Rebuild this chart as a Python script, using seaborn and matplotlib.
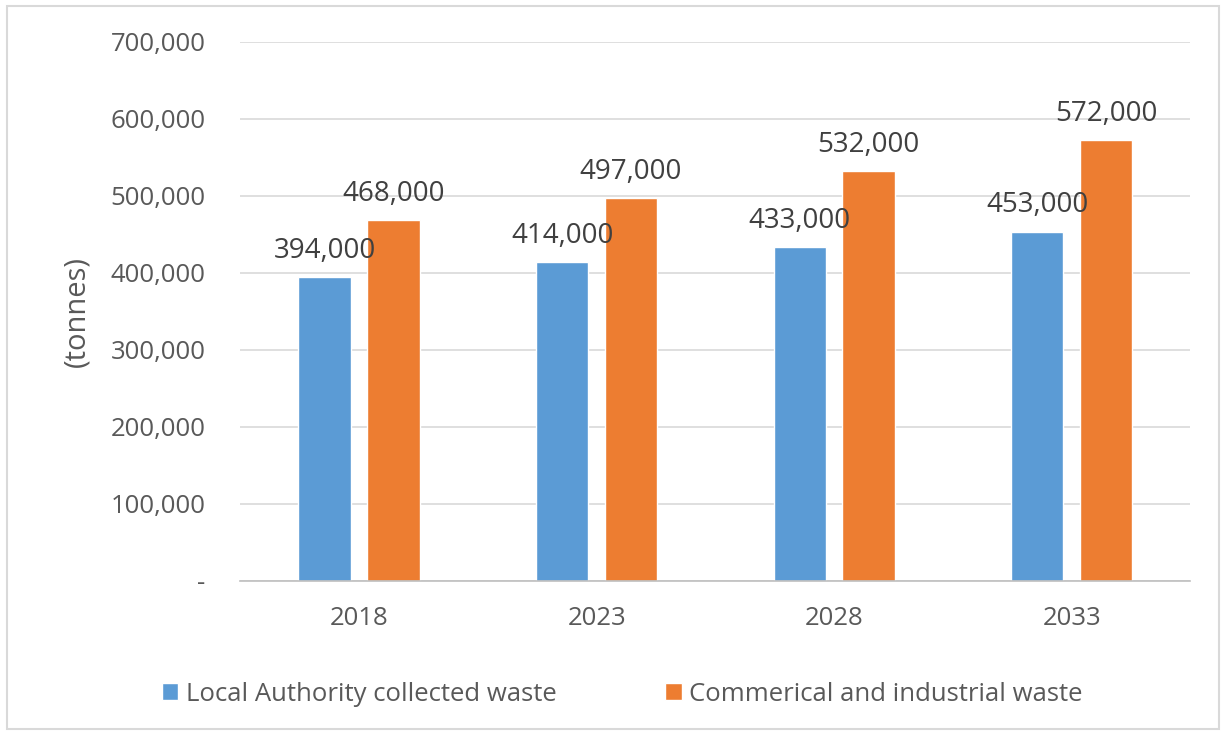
import matplotlib
matplotlib.use("Agg")
import matplotlib.pyplot as plt
import matplotlib.ticker as mticker
import pandas as pd
import seaborn as sns

years = ["2018", "2023", "2028", "2033"]
local_authority = [394000, 414000, 433000, 453000]
commercial = [468000, 497000, 532000, 572000]
series_names = ["Local Authority collected waste", "Commerical and industrial waste"]

df = pd.DataFrame({
    "year": years * 2,
    "tonnes": local_authority + commercial,
    "series": [series_names[0]] * 4 + [series_names[1]] * 4,
})

sns.set_style("white")
plt.rcParams["font.family"] = ["Open Sans", "DejaVu Sans"]
grey = "#595959"

fig = plt.figure(figsize=(12.26, 7.35), dpi=100)
ax = fig.add_axes([0.196, 0.21, 0.775, 0.733])

sns.barplot(data=df, x="year", y="tonnes", hue="series", ax=ax,
            palette=["#5B9BD5", "#ED7D31"], width=0.58, gap=0.24,
            saturation=1, legend=True)

# value labels above bars
for cont in ax.containers:
    ax.bar_label(cont, labels=[f"{v:,.0f}" for v in cont.datavalues],
                 padding=9, fontsize=20, color="#404040")

ax.set_ylim(0, 700000)
ax.yaxis.set_major_locator(mticker.MultipleLocator(100000))
ax.yaxis.set_major_formatter(mticker.FuncFormatter(
    lambda v, p: "-" if v == 0 else f"{v:,.0f}"))
ax.grid(axis="y", color="#d9d9d9", linewidth=1.2)
ax.set_axisbelow(True)
for s in ["top", "right", "left"]:
    ax.spines[s].set_visible(False)
ax.spines["bottom"].set_color("#bfbfbf")
ax.spines["bottom"].set_linewidth(1.2)
ax.tick_params(axis="y", length=0, pad=25, labelsize=18.5, labelcolor=grey)
ax.tick_params(axis="x", length=0, pad=18, labelsize=18.5, labelcolor=grey)
ax.set_xlabel("")
ax.set_ylabel("(tonnes)", fontsize=21, color=grey, labelpad=14)

leg = ax.legend(loc="upper center", bbox_to_anchor=(0.402, -0.145), ncol=2,
                frameon=False, fontsize=18.5, handlelength=0.65,
                handleheight=0.65, handletextpad=0.3, columnspacing=4.2)
for t in leg.get_texts():
    t.set_color(grey)

# outer chart border
fig.patches.append(plt.Rectangle((0.006, 0.008), 0.988, 0.984,
                                 transform=fig.transFigure, fill=False,
                                 edgecolor="#d9d9d9", linewidth=1.5))

fig.savefig("out.png", dpi=100)
